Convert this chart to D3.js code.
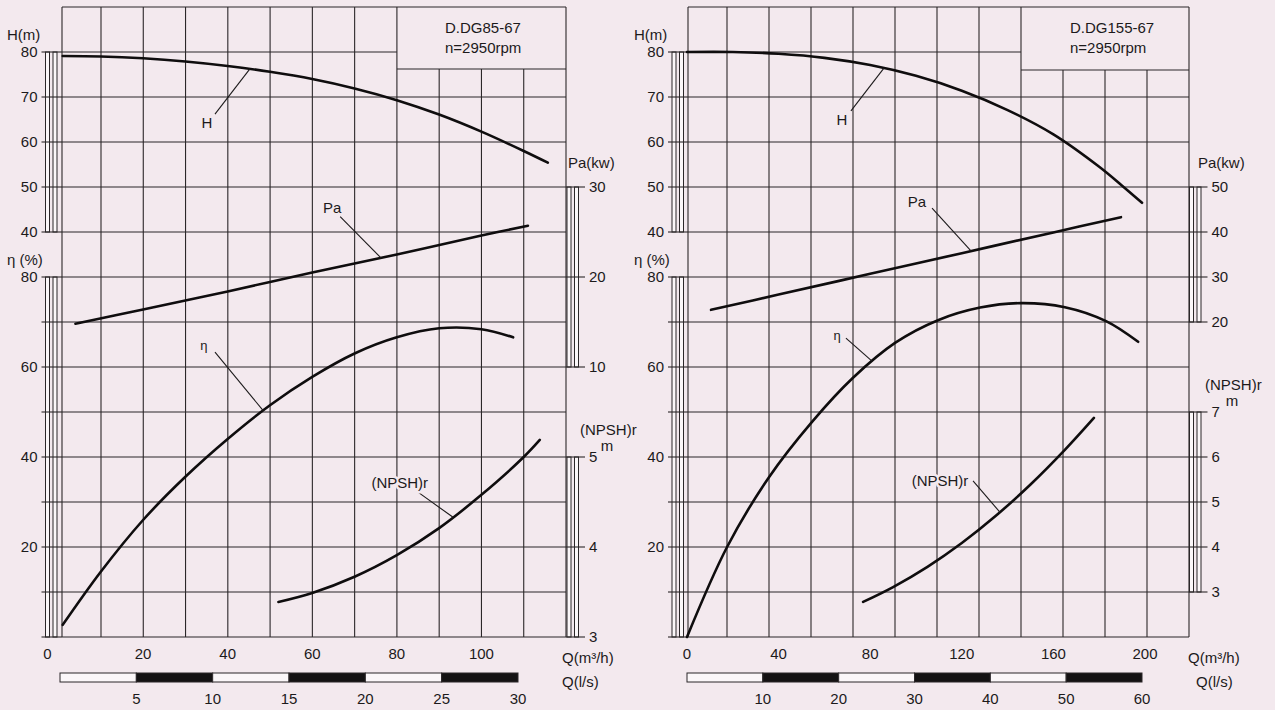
<!DOCTYPE html>
<html>
<head>
<meta charset="utf-8">
<script src="https://cdn.jsdelivr.net/npm/d3@7"></script>
<style>
    body { margin: 0; background: #f3e9ee; }
    svg { display: block; font-family: "Liberation Sans", Arial, sans-serif; }
</style>
</head>
<body>
<svg id="canvas"></svg>
<script>
// D.DG85-67, Q in m3/h
const q85H = [1, 10, 20, 30, 40, 50, 60, 70, 80, 90, 100, 110, 115.7];
const h85 = [79.1, 79.0, 78.6, 77.9, 76.9, 75.6, 74.0, 71.9, 69.3, 66.1, 62.3, 58.0, 55.4];
const q85Pa = [4, 20, 40, 60, 80, 100, 111];
const pa85 = [14.8, 16.4, 18.4, 20.5, 22.5, 24.6, 25.7];
const q85Eta = [1, 10, 20, 30, 40, 50, 60, 70, 80, 90, 100, 107.5];
const eta85 = [2.7, 14.5, 26.0, 35.6, 44.0, 51.5, 57.8, 63.0, 66.6, 68.6, 68.4, 66.6];
const q85Npsh = [52, 60, 70, 80, 90, 100, 110, 113.8];
const npsh85 = [3.39, 3.49, 3.67, 3.91, 4.21, 4.58, 5.0, 5.19];

// D.DG155-67, Q in m3/h
const q155H = [0, 20, 40, 60, 80, 100, 120, 140, 160, 180, 190, 198.7];
const h155 = [80, 80, 79.6, 78.7, 77.1, 74.7, 71.4, 67.1, 61.7, 54.5, 50.3, 46.5];
const q155Pa = [10.5, 40, 80, 120, 160, 189.5];
const pa155 = [22.7, 26.1, 30.7, 35.3, 39.9, 43.3];
const q155Eta = [0, 17.5, 35.8, 54.6, 72.5, 91, 109.6, 128, 146, 165, 183, 197];
const eta155 = [0, 20, 35.5, 47.8, 57.6, 65.4, 70.4, 73.2, 74.2, 73.3, 70.2, 65.6];
const q155Npsh = [76.9, 90, 105, 120, 135, 150, 165, 177.7];
const npsh155 = [2.78, 3.11, 3.56, 4.09, 4.70, 5.39, 6.16, 6.87];

// axis ticks
const hTicks = [40, 50, 60, 70, 80];
const etaTicks = [0, 10, 20, 30, 40, 50, 60, 70, 80];
const etaLabels = [20, 40, 60, 80];
const pa85Ticks = [10, 20, 30];
const npsh85Ticks = [3, 4, 5];
const pa155Ticks = [20, 30, 40, 50];
const npsh155Ticks = [3, 4, 5, 6, 7];
const q85Ticks = [0, 20, 40, 60, 80, 100];
const q155Ticks = [0, 40, 80, 120, 160, 200];
const ls85Ticks = [5, 10, 15, 20, 25, 30];
const ls155Ticks = [10, 20, 30, 40, 50, 60];

// curve labels: [text, series, label Q, label value, leader from Q, value, leader to Q, value]
const notes85 = [
    ['H', 'h', 35.1, 64.3, 37.0, 66.2, 45.3, 76.3],
    ['Pa', 'pa', 64.7, 27.7, 66.6, 26.7, 76.3, 22.1],
    ['η', 'eta', 34.4, 64.9, 37.0, 63.3, 48.4, 50.3],
    ['(NPSH)r', 'npsh', 80.7, 4.72, 85.0, 4.61, 93.3, 4.33]
];
const notes155 = [
    ['H', 'h', 67.7, 64.9, 71.6, 66.9, 86.0, 76.4],
    ['Pa', 'pa', 100.4, 46.7, 107.0, 45.3, 124.0, 35.8],
    ['η', 'eta', 65.5, 67.1, 69.4, 66.4, 80.8, 61.3],
    ['(NPSH)r', 'npsh', 110.5, 5.47, 124.9, 5.47, 136.7, 4.77]
];

document.addEventListener("DOMContentLoaded", () => {
    const bg = '#f3e9ee';
    const ink = '#1c1a1b';
    const svg = d3.select('#canvas').attr('width', 1275).attr('height', 710);
    svg.append('rect').attr('width', 1275).attr('height', 710).attr('fill', bg);

    drawChart({
        left: 62, right: 566, firstCol: 39, boxBottom: 69,
        qMax: 120, qRange: [58.5, 566], zeroShift: -11,
        lsMax: 30, lsRange: [60, 518], lsStep: 5,
        paDomain: [10, 30], paRange: [367, 187],
        npshDomain: [3, 5], npshRange: [637, 457],
        leftRuler: 45.5, rightRuler: 567,
        title: 'D.DG85-67', titleX: 445,
        series: { h: [q85H, h85], pa: [q85Pa, pa85], eta: [q85Eta, eta85], npsh: [q85Npsh, npsh85] },
        paTicks: pa85Ticks, npshTicks: npsh85Ticks, qTicks: q85Ticks, lsTicks: ls85Ticks,
        notes: notes85,
        yTitleX: 7, paTitleX: 568, npshTitleX: 580, qTitleX: 562, lsTitleX: 562
    });

    drawChart({
        left: 688, right: 1189, firstCol: 39, boxBottom: 70,
        qMax: 200, qRange: [687, 1145], zeroShift: 0,
        lsMax: 60, lsRange: [687, 1142], lsStep: 10,
        paDomain: [20, 50], paRange: [322, 187],
        npshDomain: [3, 7], npshRange: [592, 412],
        leftRuler: 672, rightRuler: 1189.5,
        title: 'D.DG155-67', titleX: 1070,
        series: { h: [q155H, h155], pa: [q155Pa, pa155], eta: [q155Eta, eta155], npsh: [q155Npsh, npsh155] },
        paTicks: pa155Ticks, npshTicks: npsh155Ticks, qTicks: q155Ticks, lsTicks: ls155Ticks,
        notes: notes155,
        yTitleX: 634, paTitleX: 1198, npshTitleX: 1205, qTitleX: 1188, lsTitleX: 1196
    });

    function drawChart(c) {
        const g = svg.append('g');
        const top = 7, bottom = 637;

        const x = d3.scaleLinear().domain([0, c.qMax]).range(c.qRange);
        const xLs = d3.scaleLinear().domain([0, c.lsMax]).range(c.lsRange);
        const y = {
            h: d3.scaleLinear().domain([40, 80]).range([232, 52]),
            eta: d3.scaleLinear().domain([0, 80]).range([637, 277]),
            pa: d3.scaleLinear().domain(c.paDomain).range(c.paRange),
            npsh: d3.scaleLinear().domain(c.npshDomain).range(c.npshRange)
        };

        // grid
        const colW = (c.right - c.left - c.firstCol) / 11;
        const cols = [c.left].concat(d3.range(12).map(i => c.left + c.firstCol + i * colW));
        const rows = d3.range(15).map(i => top + i * 45);
        const boxLeft = cols[8];

        const grid = g.append('g').attr('stroke', '#2b2729').attr('stroke-width', 1.1);
        rows.forEach(r => {
            grid.append('line')
                .attr('x1', c.left).attr('x2', (r > top && r < c.boxBottom) ? boxLeft : c.right)
                .attr('y1', r).attr('y2', r);
        });
        grid.append('line')
            .attr('x1', boxLeft).attr('x2', c.right)
            .attr('y1', c.boxBottom).attr('y2', c.boxBottom);
        cols.forEach(cx => {
            const inBox = cx > boxLeft + 1 && cx < c.right - 1;
            grid.append('line')
                .attr('x1', cx).attr('x2', cx)
                .attr('y1', inBox ? c.boxBottom : top).attr('y2', bottom);
        });

        // title box text
        g.append('text').attr('x', c.titleX).attr('y', 33)
            .attr('font-size', 15).attr('fill', ink).text(c.title);
        g.append('text').attr('x', c.titleX).attr('y', 53)
            .attr('font-size', 15).attr('fill', ink).text('n=2950rpm');

        // rulers
        drawRuler(g, c.leftRuler, y.h(80), y.h(40));
        drawRuler(g, c.leftRuler, y.eta(80), y.eta(0));
        drawRuler(g, c.rightRuler, y.pa(c.paDomain[1]), y.pa(c.paDomain[0]));
        drawRuler(g, c.rightRuler, y.npsh(c.npshDomain[1]), y.npsh(c.npshDomain[0]));

        hTicks.forEach(v => leftTick(y.h(v), v));
        etaTicks.forEach(v => leftTick(y.eta(v), etaLabels.includes(v) ? v : null));
        c.paTicks.forEach(v => rightTick(y.pa(v), v));
        c.npshTicks.forEach(v => rightTick(y.npsh(v), v));

        function leftTick(ty, label) {
            g.append('line')
                .attr('x1', c.leftRuler - 4).attr('x2', c.left)
                .attr('y1', ty).attr('y2', ty)
                .attr('stroke', '#2b2729').attr('stroke-width', 1.1);
            if (label !== null) {
                g.append('text')
                    .attr('x', c.leftRuler - 8).attr('y', ty).attr('dy', '0.36em')
                    .attr('text-anchor', 'end').attr('font-size', 15).attr('fill', ink)
                    .text(label);
            }
        }

        function rightTick(ty, label) {
            g.append('line')
                .attr('x1', c.right).attr('x2', c.rightRuler + 18)
                .attr('y1', ty).attr('y2', ty)
                .attr('stroke', '#2b2729').attr('stroke-width', 1.1);
            g.append('text')
                .attr('x', c.rightRuler + 22).attr('y', ty).attr('dy', '0.36em')
                .attr('font-size', 15).attr('fill', ink)
                .text(label);
        }

        // axis titles
        const titles = [
            ['H(m)', c.yTitleX, 40],
            ['η (%)', c.yTitleX, 265],
            ['Pa(kw)', c.paTitleX, 168],
            ['(NPSH)r', c.npshTitleX, y.npsh(c.npshDomain[1]) - 22],
            ['Q(m³/h)', c.qTitleX, 663],
            ['Q(l/s)', c.lsTitleX, 687]
        ];
        titles.forEach(t => {
            g.append('text').attr('x', t[1]).attr('y', t[2])
                .attr('font-size', 15).attr('fill', ink).text(t[0]);
        });
        g.append('text').attr('x', c.npshTitleX + 27).attr('y', y.npsh(c.npshDomain[1]) - 6)
            .attr('text-anchor', 'middle').attr('font-size', 15).attr('fill', ink).text('m');

        // Q ticks
        c.qTicks.forEach(v => {
            g.append('text')
                .attr('x', x(v) + (v === 0 ? c.zeroShift : 0)).attr('y', 659)
                .attr('text-anchor', 'middle').attr('font-size', 15).attr('fill', ink)
                .text(v);
        });

        // l/s bar
        const segs = d3.range(0, c.lsMax, c.lsStep);
        g.selectAll(null).data(segs).enter().append('rect')
            .attr('x', d => xLs(d)).attr('width', d => xLs(d + c.lsStep) - xLs(d))
            .attr('y', 673).attr('height', 9)
            .attr('fill', (d, i) => i % 2 ? '#141213' : '#fbf7f9')
            .attr('stroke', '#2b2729').attr('stroke-width', 1);
        c.lsTicks.forEach(v => {
            g.append('text')
                .attr('x', xLs(v)).attr('y', 704)
                .attr('text-anchor', 'middle').attr('font-size', 15).attr('fill', ink)
                .text(v);
        });

        // curves
        Object.keys(c.series).forEach(k => {
            const [qs, vs] = c.series[k];
            const line = d3.line()
                .x((d, i) => x(qs[i]))
                .y(d => y[k](d))
                .curve(d3.curveCatmullRom.alpha(0.5));
            g.append('path')
                .attr('d', line(vs))
                .attr('fill', 'none')
                .attr('stroke', '#0f0d0e')
                .attr('stroke-width', 2.6)
                .attr('stroke-linecap', 'round');
        });

        // curve labels
        c.notes.forEach(n => {
            const sy = y[n[1]];
            g.append('line')
                .attr('x1', x(n[4])).attr('y1', sy(n[5]))
                .attr('x2', x(n[6])).attr('y2', sy(n[7]))
                .attr('stroke', '#1c1a1b').attr('stroke-width', 1.1);
            g.append('text')
                .attr('x', x(n[2])).attr('y', sy(n[3])).attr('dy', '0.36em')
                .attr('text-anchor', 'middle')
                .attr('font-size', n[0] === 'η' ? 13 : 15).attr('fill', ink)
                .attr('paint-order', 'stroke').attr('stroke', bg).attr('stroke-width', 5)
                .text(n[0]);
        });
    }

    function drawRuler(g, rx, y0, y1) {
        [0, 7.5].forEach(off => {
            g.append('rect')
                .attr('x', rx + off).attr('y', y0)
                .attr('width', 4).attr('height', y1 - y0)
                .attr('fill', '#fbf7f9')
                .attr('stroke', '#2b2729').attr('stroke-width', 1);
        });
    }
});
</script>
</body>
</html>
